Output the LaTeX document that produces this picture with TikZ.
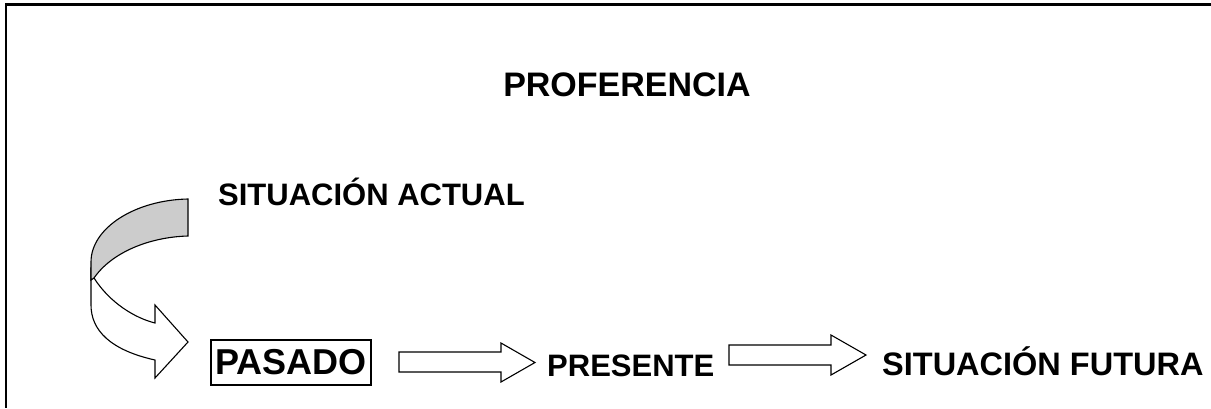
\documentclass[tikz,border=0pt]{standalone}
\usepackage{fontspec}
\setmainfont{Liberation Sans}
\begin{document}
\begin{tikzpicture}[x=1pt,y=-1pt,
  lbl/.style={inner sep=0pt,anchor=base west,font=\bfseries\fontsize{31}{37}\selectfont},
  blockarrow/.style={draw=black,line width=1.1pt,fill=white,line join=miter},
  frameline/.style={line width=2.2pt}]
\useasboundingbox (0,0) rectangle (1211,408);
% frame
\draw[frameline] (1211,4.5) -- (6,4.5) -- (6,408);
% labels
\node[lbl,anchor=base,font=\bfseries\fontsize{34}{40}\selectfont] (prof) at (627,96) {PROFERENCIA};
\node[lbl] (actual) at (218,205) {SITUACIÓN ACTUAL};
\node[draw,line width=1.5pt,inner sep=0pt,minimum width=160,minimum height=45,
      font=\bfseries\fontsize{36}{42}\selectfont] (pasado) at (291,362.5) {PASADO};
\node[lbl,font=\bfseries\fontsize{31}{37}\selectfont] (presente) at (547,376) {PRESENTE};
\node[lbl,font=\bfseries\fontsize{32.5}{38}\selectfont] (futura) at (882,375) {SITUACIÓN FUTURA};
% block arrows
\draw[blockarrow] (399,352) -- (501,352) -- (501,343) -- (535,362.5) -- (501,382) -- (501,372) -- (399,372) -- cycle;
\draw[blockarrow] (729,345) -- (831,345) -- (831,335) -- (866,355) -- (831,375) -- (831,365) -- (729,365) -- cycle;
% curved arrow
\draw[blockarrow] (94,278) .. controls (110,303) and (135,318) .. (155,323) -- (155,305) -- (188,342) -- (155,378) -- (155,360)
   .. controls (110,350) and (91,330) .. (91,305) -- (91,270) -- cycle;
\draw[blockarrow,fill=gray!40] (188,199) .. controls (135,200) and (91,228) .. (91,262) -- (91,280) -- (94,278)
   .. controls (112,252) and (150,237) .. (188,236) -- cycle;
\end{tikzpicture}
\end{document}
